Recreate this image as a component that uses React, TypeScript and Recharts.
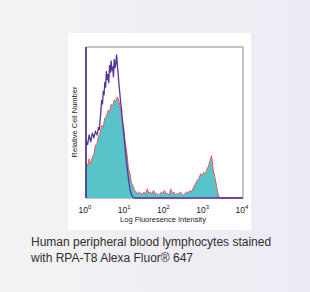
import React from "react";
import { ComposedChart, Area, Line, XAxis, YAxis, ReferenceArea, ReferenceLine } from "recharts";

const stainedX = [
  0, 0.04, 0.08, 0.12, 0.16, 0.2, 0.24, 0.28, 0.32, 0.36, 0.4, 0.44, 0.48, 0.52, 0.56, 0.6, 0.64, 0.68, 0.72, 0.76,
  0.8, 0.84, 0.88, 0.92, 0.96, 1.0, 1.04, 1.08, 1.12, 1.16, 1.2, 1.24, 1.28, 1.32, 1.36, 1.4, 1.44, 1.48, 1.52, 1.56,
  1.6, 1.64, 1.68, 1.72, 1.76, 1.8, 1.84, 1.88, 1.92, 1.96, 2.0, 2.04, 2.08, 2.12, 2.16, 2.2, 2.24, 2.28, 2.32, 2.36,
  2.4, 2.44, 2.48, 2.52, 2.56, 2.6, 2.64, 2.68, 2.72, 2.76, 2.8, 2.84, 2.88, 2.92, 2.96, 3.0, 3.04, 3.08, 3.12, 3.16,
  3.2, 3.24, 3.28, 3.32, 3.36, 3.4, 4.0,
];

const stainedY = [
  24, 21, 26, 22, 27, 29, 35, 36, 41, 43, 48, 47, 53, 54, 58, 57, 62, 61, 65, 64,
  67, 64, 59, 51, 47, 37, 30, 20, 16, 10, 8, 5, 4, 3, 4, 3, 2.5, 4, 3, 6,
  3, 4, 2.5, 5, 3, 3, 2, 2.5, 4, 3, 5, 3, 3, 2, 6, 3, 4, 2, 3, 2.5,
  4, 3, 2, 3, 4, 3, 5, 4, 6, 8, 10, 12, 13, 16, 15, 17, 16, 19, 21, 25,
  28, 19, 14, 9, 3, 0, 0,
];

const controlX = [
  0, 0.04, 0.08, 0.12, 0.16, 0.2, 0.24, 0.28, 0.3, 0.32, 0.34, 0.36, 0.38, 0.4, 0.42, 0.44, 0.46, 0.48, 0.5, 0.52,
  0.54, 0.56, 0.58, 0.6, 0.62, 0.64, 0.66, 0.68, 0.7, 0.72, 0.74, 0.76, 0.78, 0.8, 0.82, 0.84, 0.86, 0.88, 0.9, 0.92,
  0.96, 1.0, 1.04, 1.08, 1.12, 1.16, 1.2, 1.24, 4.0,
];

const controlY = [
  38, 35, 42, 37, 43, 40, 44, 42, 44, 47, 45, 52, 58, 65, 62, 71, 68, 77, 73, 84,
  78, 82, 76, 88, 83, 91, 85, 86, 80, 92, 86, 89, 95, 88, 82, 75, 70, 64, 60, 54,
  43, 32, 22, 13, 6, 2, 0.5, 0, 0,
];

const decadeTicks = [0, 1, 2, 3, 4];

const stainedData = stainedX.map((x, i) => ({ x, value: stainedY[i] }));
const controlData = controlX.map((x, i) => ({ x, value: controlY[i] }));

const font = "'Liberation Sans', Arial, sans-serif";

const DecadeTick = (props: any) => {
  const { x, y, payload } = props;
  return (
    <text x={x - 1} y={y + 7} textAnchor="middle" fontSize={8.5} fill="#222" fontFamily={font}>
      <tspan>10</tspan>
      <tspan dy={-4} fontSize={6}>{payload.value}</tspan>
    </text>
  );
};

export default function App() {
  return (
    <div
      style={{
        position: "fixed",
        left: 0,
        top: 0,
        width: 310,
        height: 292,
        background: "linear-gradient(90deg, #f3f3f4 0%, #f0eef4 50%, #eeebf5 100%)",
        overflow: "hidden",
      }}
    >
      <div style={{ position: "absolute", left: 68, top: 33, width: 183, height: 197, background: "#ffffff" }} />
      <div style={{ position: "absolute", left: 0, top: 0 }}>
        <ComposedChart width={310} height={230} margin={{ top: 47, left: 86, right: 67, bottom: 0 }}>
          <XAxis
            dataKey="x"
            type="number"
            domain={[0, 4]}
            ticks={decadeTicks}
            tickLine={false}
            axisLine={false}
            height={32}
            tick={<DecadeTick />}
            interval={0}
            allowDuplicatedCategory={false}
          />
          <YAxis type="number" domain={[0, 100]} hide />
          <ReferenceArea x1={0} x2={4} y1={0} y2={100} fill="none" stroke="#8a8796" strokeWidth={1} ifOverflow="visible" />
          <Area
            data={stainedData}
            type="linear"
            dataKey="value"
            fill="#58c4c9"
            fillOpacity={1}
            stroke="#e65a5c"
            strokeWidth={1}
            isAnimationActive={false}
            dot={false}
            activeDot={false}
          />
          <Line
            data={controlData}
            type="linear"
            dataKey="value"
            stroke="#54349a"
            strokeWidth={1.3}
            dot={false}
            activeDot={false}
            isAnimationActive={false}
          />
          <ReferenceLine x={0} stroke="#3f2a80" strokeWidth={1.5} ifOverflow="visible" />
        </ComposedChart>
      </div>
      <div
        style={{
          position: "absolute",
          left: 74,
          top: 122,
          transform: "translate(-50%, -50%) rotate(-90deg)",
          fontFamily: font,
          fontSize: 7.5,
          color: "#222",
          whiteSpace: "nowrap",
        }}
      >
        Relative Cell Number
      </div>
      <div
        style={{
          position: "absolute",
          left: 163,
          top: 219,
          transform: "translate(-50%, -50%)",
          fontFamily: font,
          fontSize: 7.5,
          color: "#222",
          whiteSpace: "nowrap",
        }}
      >
        Log Fluoresence Intensity
      </div>
      <div
        style={{
          position: "absolute",
          left: 31,
          top: 234,
          fontFamily: font,
          fontSize: 12,
          lineHeight: "16px",
          color: "#2e2e2e",
          whiteSpace: "nowrap",
        }}
      >
        Human peripheral blood lymphocytes stained
        <br />
        with RPA-T8 Alexa Fluor® 647
      </div>
    </div>
  );
}
